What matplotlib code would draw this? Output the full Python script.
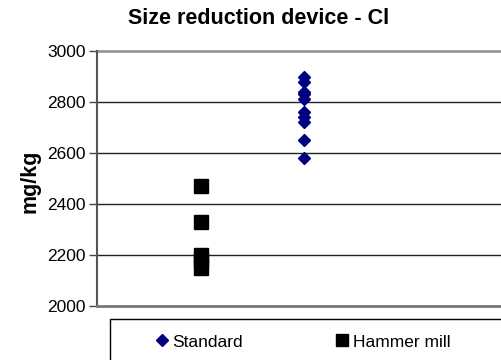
import matplotlib
matplotlib.use("Agg")
import matplotlib.pyplot as plt
from matplotlib.patches import Rectangle
from matplotlib.lines import Line2D

plt.rcParams['font.family'] = ['Liberation Sans', 'DejaVu Sans']

title = "Size reduction device - Cl"
ylabel = "mg/kg"
series_names = ["Standard", "Hammer mill"]
standard_x = 2
standard_vals = [2900, 2880, 2840, 2830, 2810, 2760, 2740, 2720, 2650, 2580]
hammer_x = 1
hammer_vals = [2470, 2330, 2200, 2180, 2150]
yticks = [2000, 2200, 2400, 2600, 2800, 3000]

W, H = 501, 360
fig = plt.figure(figsize=(W/100, H/100), dpi=100)
ax = fig.add_axes([97/W, 1-306/H, (W-97)/W + 0.01, (306-51)/H])

ax.set_xlim(0, 3.95)
ax.set_ylim(2000, 3000)
ax.set_yticks(yticks)
ax.set_xticks([])
for v in yticks[1:-1]:
    ax.axhline(v, color='#222222', lw=1.0, zorder=1)
ax.axhline(3000, color='#999999', lw=2.0, zorder=1, clip_on=False)

ax.spines['right'].set_visible(False)
ax.spines['top'].set_visible(False)
ax.spines['left'].set_color('#555555')
ax.spines['left'].set_linewidth(1.5)
ax.spines['bottom'].set_color('#777777')
ax.spines['bottom'].set_linewidth(2.0)
ax.tick_params(axis='y', direction='out', length=6, width=1, color='#444444',
               labelsize=12.5, pad=2)

ax.plot([standard_x]*len(standard_vals), standard_vals, linestyle='none',
        marker='D', ms=6.5, color='#000080', zorder=3, clip_on=False)
ax.plot([hammer_x]*len(hammer_vals), hammer_vals, linestyle='none',
        marker='s', ms=9.5, color='black', zorder=3, clip_on=False)

fig.text(259/W, 1-19/H, title, ha='center', va='center', fontsize=15.5, fontweight='bold')
fig.text(30/W, 1-181/H, ylabel, ha='center', va='center', rotation=90,
         fontsize=15.5, fontweight='bold')

fig.patches.append(Rectangle((110/W, -0.05), 400/W, 0.05 + (1-319/H),
                             transform=fig.transFigure, fill=False,
                             edgecolor='black', lw=1.0))
handles = [Line2D([], [], linestyle='none', marker='D', ms=6.5, color='#000080'),
           Line2D([], [], linestyle='none', marker='s', ms=8.5, color='black')]
fig.legend(handles, series_names, loc='center left', bbox_to_anchor=(157/W, 1-342/H),
           ncol=2, frameon=False, fontsize=12.5, handlelength=0.6, handletextpad=0.3,
           columnspacing=5.4, borderpad=0, borderaxespad=0)

fig.savefig("out.png", dpi=100)
